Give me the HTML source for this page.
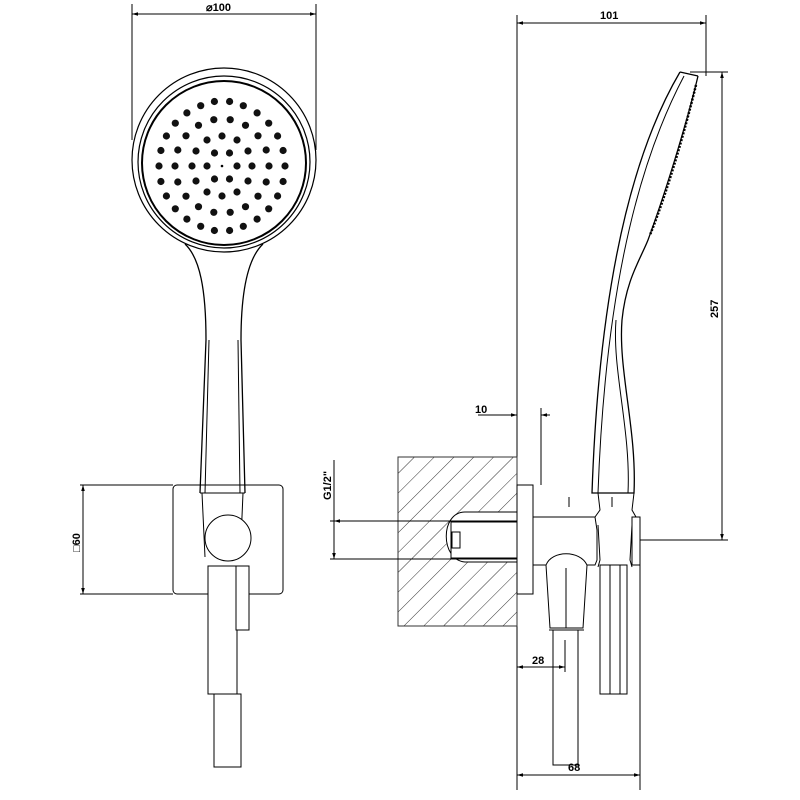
<!DOCTYPE html>
<html><head><meta charset="utf-8"><style>
html,body{margin:0;padding:0;background:#fff}
svg{display:block}
text{font-family:"Liberation Sans",sans-serif;font-weight:bold;font-size:11px;fill:#000}
</style></head><body>
<svg width="800" height="800" viewBox="0 0 800 800" xmlns="http://www.w3.org/2000/svg">
<defs>
<marker id="a" viewBox="0 0 10 10" refX="10" refY="5" markerWidth="8" markerHeight="6" orient="auto-start-reverse"><path d="M0,2 L10,5 L0,8z" fill="#000"/></marker>
<pattern id="h" width="14" height="14" patternUnits="userSpaceOnUse" patternTransform="rotate(45)"><line x1="0" y1="0" x2="0" y2="14" stroke="#333" stroke-width="1"/></pattern>
</defs>
<g fill="none" stroke="#000" stroke-width="1">
<!-- Front view dims -->
<line x1="132" y1="4" x2="132" y2="140"/>
<line x1="316" y1="4" x2="316" y2="150"/>
<line x1="132" y1="14" x2="316" y2="14" marker-start="url(#a)" marker-end="url(#a)"/>
<!-- head -->
<circle cx="224" cy="160" r="92" stroke-width="1.2"/>
<circle cx="224" cy="162" r="86" stroke-width="1.2"/>
<circle cx="224" cy="163" r="82" stroke-width="2"/>
<!-- handle -->
<path d="M185,244 C200,258 206,290 206,340 L200,493 M263,244 C248,258 241,290 241,340 L245,493" stroke-width="1.3"/>
<path d="M209,340 L205,493 M238,340 L240,493 M200,493 L245,493"/>
<!-- wall plate -->
<rect x="173" y="485" width="110" height="109" rx="4"/>
<line x1="80" y1="485" x2="173" y2="485"/>
<line x1="80" y1="594" x2="173" y2="594"/>
<line x1="83" y1="485" x2="83" y2="594" marker-start="url(#a)" marker-end="url(#a)"/>
<path d="M202,493 L205,557 M243,493 L241,540"/>
<circle cx="228" cy="538" r="23" fill="#fff"/>
<rect x="208" y="566" width="29" height="128" fill="#fff"/>
<rect x="236" y="566" width="13" height="64" fill="#fff"/>
<rect x="214" y="694" width="27" height="73"/>
<!-- Side view -->
<line x1="517" y1="15" x2="517" y2="790"/>
<line x1="706" y1="15" x2="706" y2="76"/>
<line x1="517" y1="23" x2="706" y2="23" marker-start="url(#a)" marker-end="url(#a)"/>
<line x1="690" y1="72" x2="728" y2="72"/>
<line x1="640" y1="540" x2="728" y2="540"/>
<line x1="722" y1="72" x2="722" y2="540" marker-start="url(#a)" marker-end="url(#a)"/>
<!-- wall -->
<rect x="398" y="457" width="119" height="169" fill="url(#h)" stroke="#333"/>
<path d="M517,512 L465,512 C440,512 440,560 465,562 L517,562 Z" fill="#fff"/>
<rect x="451" y="522" width="66" height="36" fill="#fff"/>
<rect x="452" y="532" width="8" height="16"/>
<line x1="330" y1="521" x2="517" y2="521"/>
<line x1="330" y1="559" x2="517" y2="559"/>
<line x1="334" y1="460" x2="334" y2="559" marker-end="url(#a)"/>
<line x1="334" y1="521" x2="334" y2="521" marker-start="url(#a)"/>
<!-- plate -->
<rect x="517" y="485" width="16" height="109" fill="#fff"/>
<line x1="541" y1="408" x2="541" y2="485"/>
<line x1="478" y1="415" x2="508" y2="415"/>
<line x1="508" y1="415" x2="517" y2="415" marker-end="url(#a)"/>
<line x1="550" y1="415" x2="541" y2="415" marker-end="url(#a)"/>
<!-- body -->
<path d="M533,517 L595,517 L597,530 L597,560 L595,565 L533,565"/>
<path d="M598,493 L600,510 L595,517 M634,493 L632,510 L636,517"/>
<path d="M598,525 L600,560 L598,567 M632,525 L630,560 L632,567"/>
<rect x="632" y="517" width="8" height="48"/>
<line x1="569" y1="497" x2="569" y2="507"/>
<line x1="612" y1="497" x2="612" y2="507"/>
<path d="M546,565 C552,550 580,550 587,565 L583,628 L550,628 Z" fill="#fff"/>
<line x1="566" y1="568" x2="566" y2="628"/>
<line x1="549" y1="630" x2="584" y2="630"/>
<rect x="553" y="630" width="25" height="135"/>
<rect x="600" y="565" width="27" height="129"/>
<line x1="620" y1="565" x2="620" y2="694"/>
<line x1="610" y1="565" x2="610" y2="694"/>
<line x1="517" y1="667" x2="565" y2="667" marker-start="url(#a)" marker-end="url(#a)"/>
<line x1="565" y1="640" x2="565" y2="672"/>
<line x1="640" y1="565" x2="640" y2="790"/>
<line x1="517" y1="775" x2="640" y2="775" marker-start="url(#a)" marker-end="url(#a)"/>
<!-- side handle -->
<path d="M680,72 L698,76 M680,72 C640,140 600,260 592,493 L634,493 C637,430 618,370 622,320 C626,280 640,260 648,240 C670,180 690,110 698,76" stroke-width="1.3"/>
<path d="M684,76 C645,150 606,270 598,493 M628,493 C631,430 612,370 616,320"/>
<path d="M696,85 C685,130 668,190 650,235" stroke-width="2.5" stroke-dasharray="2 1.5"/>
</g>
<g fill="#000">
<circle cx="222" cy="166" r="1.3"/>
<g id="d"></g>
</g>
<g fill="#111">
<!-- dot rings generated inline -->
<circle cx="237" cy="166" r="3.6"/><circle cx="229.5" cy="179" r="3.6"/><circle cx="214.5" cy="179" r="3.6"/><circle cx="207" cy="166" r="3.6"/><circle cx="214.5" cy="153" r="3.6"/><circle cx="229.5" cy="153" r="3.6"/>
<circle cx="252" cy="166" r="3.6"/><circle cx="248" cy="181" r="3.6"/><circle cx="237" cy="192" r="3.6"/><circle cx="222" cy="196" r="3.6"/><circle cx="207" cy="192" r="3.6"/><circle cx="196" cy="181" r="3.6"/><circle cx="192" cy="166" r="3.6"/><circle cx="196" cy="151" r="3.6"/><circle cx="207" cy="140" r="3.6"/><circle cx="222" cy="136" r="3.6"/><circle cx="237" cy="140" r="3.6"/><circle cx="248" cy="151" r="3.6"/>
<circle cx="269" cy="166" r="3.6"/><circle cx="266.2" cy="182" r="3.6"/><circle cx="258" cy="196.2" r="3.6"/><circle cx="245.5" cy="206.7" r="3.6"/><circle cx="230.2" cy="212.3" r="3.6"/><circle cx="213.8" cy="212.3" r="3.6"/><circle cx="198.5" cy="206.7" r="3.6"/><circle cx="186" cy="196.2" r="3.6"/><circle cx="177.8" cy="182" r="3.6"/><circle cx="175" cy="166" r="3.6"/><circle cx="177.8" cy="150" r="3.6"/><circle cx="186" cy="135.8" r="3.6"/><circle cx="198.5" cy="125.3" r="3.6"/><circle cx="213.8" cy="119.7" r="3.6"/><circle cx="230.2" cy="119.7" r="3.6"/><circle cx="245.5" cy="125.3" r="3.6"/><circle cx="258" cy="135.8" r="3.6"/><circle cx="266.2" cy="150" r="3.6"/>
<circle cx="285" cy="166" r="3.6"/><circle cx="283.1" cy="181.5" r="3.6"/><circle cx="277.6" cy="196" r="3.6"/><circle cx="268.7" cy="208.8" r="3.6"/><circle cx="257.1" cy="219.1" r="3.6"/><circle cx="243.3" cy="226.3" r="3.6"/><circle cx="229.6" cy="230.5" r="3.6"/><circle cx="214.4" cy="230.5" r="3.6"/><circle cx="200.7" cy="226.3" r="3.6"/><circle cx="186.9" cy="219.1" r="3.6"/><circle cx="175.3" cy="208.8" r="3.6"/><circle cx="166.4" cy="196" r="3.6"/><circle cx="160.9" cy="181.5" r="3.6"/><circle cx="159" cy="166" r="3.6"/><circle cx="160.9" cy="150.5" r="3.6"/><circle cx="166.4" cy="136" r="3.6"/><circle cx="175.3" cy="123.2" r="3.6"/><circle cx="186.9" cy="112.9" r="3.6"/><circle cx="200.7" cy="105.7" r="3.6"/><circle cx="214.4" cy="101.5" r="3.6"/><circle cx="229.6" cy="101.5" r="3.6"/><circle cx="243.3" cy="105.7" r="3.6"/><circle cx="257.1" cy="112.9" r="3.6"/><circle cx="268.7" cy="123.2" r="3.6"/><circle cx="277.6" cy="136" r="3.6"/><circle cx="283.1" cy="150.5" r="3.6"/>
</g>
<text x="206" y="11">⌀100</text>
<text x="600" y="19">101</text>
<text x="475" y="413" >10</text>
<text x="532" y="664">28</text>
<text x="568" y="771">68</text>
<text transform="translate(718,318) rotate(-90)">257</text>
<text transform="translate(80,552) rotate(-90)">□60</text>
<text transform="translate(331,500) rotate(-90)">G1/2"</text>
</svg>
</body></html>
